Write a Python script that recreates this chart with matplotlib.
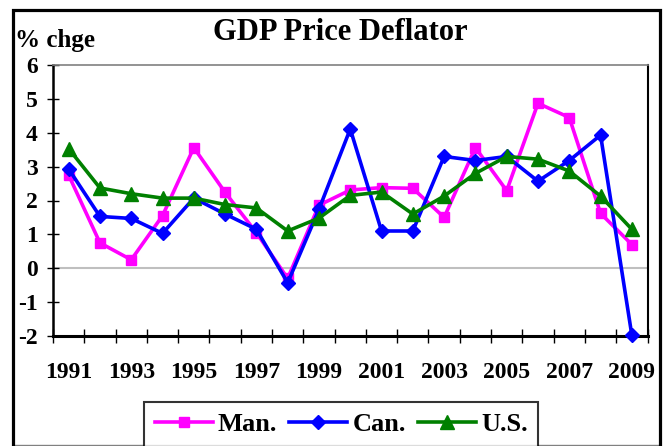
import numpy as np
import matplotlib
matplotlib.use("Agg")
import matplotlib.pyplot as plt
from matplotlib.patches import Rectangle
from matplotlib.lines import Line2D

years = [str(y) for y in range(1991, 2010)]
man = [2.75, 0.75, 0.25, 1.55, 3.56, 2.24, 1.05, -0.30, 1.86, 2.31, 2.38, 2.36,
       1.50, 3.56, 2.29, 4.87, 4.45, 1.62, 0.70]
can = [2.93, 1.53, 1.47, 1.03, 2.07, 1.60, 1.15, -0.43, 1.74, 4.11, 1.10, 1.10,
       3.30, 3.18, 3.30, 2.57, 3.18, 3.93, -1.98]
us = [3.53, 2.37, 2.20, 2.07, 2.07, 1.88, 1.78, 1.10, 1.48, 2.15, 2.25, 1.60,
      2.13, 2.80, 3.30, 3.22, 2.87, 2.13, 1.15]
series_names = ["Man.", "Can.", "U.S."]
yticks = [-2, -1, 0, 1, 2, 3, 4, 5, 6]

plt.rcParams['font.family'] = ['Liberation Serif', 'DejaVu Serif']
plt.rcParams['font.weight'] = 'bold'

W, H = 664, 446
fig = plt.figure(figsize=(W / 100, H / 100), dpi=100)
ax = fig.add_axes([53 / W, 1 - 336 / H, (647.5 - 53) / W, (336 - 65) / H])

x = np.arange(len(years))
styles = [
    dict(color='#FF00FF', marker='s', ms=7.5),
    dict(color='#0000FF', marker='D', ms=7),
    dict(color='#008000', marker='^', ms=10),
]
handles = []
for vals, st, name, z in zip([man, can, us], styles, series_names, [3, 4, 5]):
    h, = ax.plot(x, vals, color=st['color'], marker=st['marker'], ms=st['ms'],
                 lw=2.6, mec=st['color'], mfc=st['color'], zorder=z, label=name,
                 clip_on=False)
    handles.append(h)

ax.axhline(0, color='#BFBFBF', lw=1.5, zorder=1)

ax.set_xlim(-0.5, len(years) - 0.5)
ax.set_ylim(-2, 6)

ax.set_yticks(yticks)
ax.set_yticklabels([str(v) for v in yticks])
ax.tick_params(axis='y', direction='inout', length=8, width=1, pad=7,
               labelsize=17, color='black')

ax.set_xticks(x)
ax.set_xticklabels([y if i % 2 == 0 else '' for i, y in enumerate(years)])
ax.set_xticks(np.arange(-0.5, len(years)), minor=True)
ax.tick_params(axis='x', which='major', length=0, pad=19, labelsize=17)
ax.tick_params(axis='x', which='minor', direction='inout', length=10, width=1,
               color='black')

for lbl in ax.get_xticklabels() + ax.get_yticklabels():
    lbl.set_fontweight('bold')

ax.spines['left'].set_linewidth(1.8)
ax.spines['bottom'].set_linewidth(2.2)
ax.spines['top'].set_color('#808080')
ax.spines['top'].set_linewidth(1.2)
ax.spines['right'].set_color('black')
ax.spines['right'].set_linewidth(1.5)

fig.text(340 / W, 1 - 33 / H, 'GDP Price Deflator', ha='center', va='center',
         fontsize=22, fontweight='bold')
fig.text(15 / W, 1 - 40 / H, '% chge', ha='left', va='center',
         fontsize=18, fontweight='bold')

leg = fig.legend(handles=handles, loc='upper left',
                 bbox_to_anchor=(144 / W, 1 - 402 / H), ncol=3,
                 frameon=True, fancybox=False, edgecolor='black',
                 prop={'size': 19, 'weight': 'bold'},
                 handlelength=2.2, handletextpad=0.2, columnspacing=0.45,
                 borderpad=0.4, borderaxespad=0)
leg.get_frame().set_linewidth(1.5)

fig.patches.append(Rectangle((12.5 / W, -0.1), (659.5 - 12.5) / W, 1.1 - 10 / H,
                             transform=fig.transFigure, fill=False,
                             edgecolor='black', lw=2.3, zorder=10))
fig.lines.append(Line2D([12.5 / W, 659.5 / W], [0.6 / H, 0.6 / H],
                        transform=fig.transFigure, color='#808080', lw=1))

fig.savefig('out.png', dpi=100)
